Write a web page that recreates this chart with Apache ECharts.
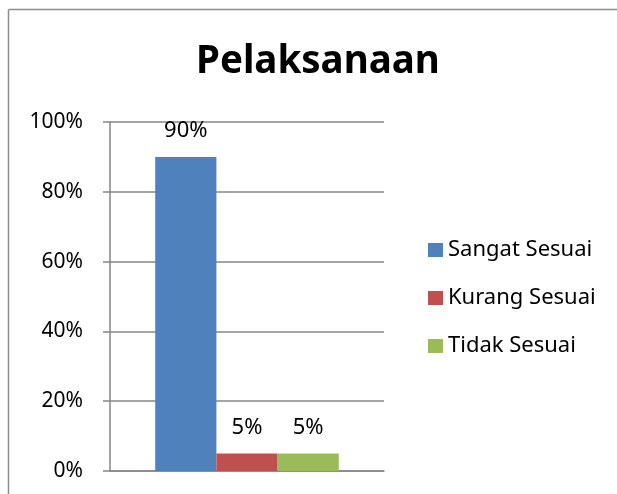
<!DOCTYPE html>
<html>
<head>
<meta charset="utf-8">
<script src="https://cdn.jsdelivr.net/npm/echarts@6/dist/echarts.min.js"></script>
<style>
  html, body { margin: 0; padding: 0; background: #fff; overflow: hidden; }
  #chart { width: 617px; height: 494px; }
</style>
</head>
<body>
<div id="chart"></div>
<script>
// data
const categories = [''];
const seriesNames = ['Sangat Sesuai', 'Kurang Sesuai', 'Tidak Sesuai'];
const seriesValues = [[90], [5], [5]];
const seriesColors = ['#4F81BD', '#C0504D', '#9BBB59'];
const yTicks = { min: 0, max: 100, interval: 20 };

const chart = echarts.init(document.getElementById('chart'), null, { renderer: 'canvas' });

const font = '"Noto Sans", "Open Sans", sans-serif';

const series = seriesNames.map((name, i) => ({
  name: name,
  type: 'bar',
  data: seriesValues[i],
  barGap: '0%',
  barCategoryGap: '33%',
  itemStyle: { color: seriesColors[i] },
  label: {
    show: true,
    position: 'top',
    distance: 15,
    formatter: '{c}%',
    color: '#000',
    fontFamily: font,
    fontSize: 22
  }
}));

chart.setOption({
  animation: false,
  backgroundColor: '#fff',
  textStyle: { fontFamily: font },
  title: {
    text: 'Pelaksanaan',
    left: 196,
    top: 43,
    padding: 0,
    textStyle: { fontFamily: font, fontSize: 38.5, fontWeight: 'bold', color: '#000' }
  },
  // chart frame: only its top and left edges fall inside the picture
  graphic: [{
    type: 'line',
    shape: { x1: 8.5, y1: 494, x2: 8.5, y2: 9.5 },
    style: { stroke: '#8c8c8c', lineWidth: 1.5 },
    silent: true
  }, {
    type: 'line',
    shape: { x1: 8.5, y1: 9.5, x2: 640, y2: 9.5 },
    style: { stroke: '#8c8c8c', lineWidth: 1.5 },
    silent: true
  }],
  legend: {
    orient: 'vertical',
    left: 428,
    top: 239,
    padding: 0,
    itemWidth: 15,
    itemHeight: 14,
    itemGap: 26,
    icon: 'rect',
    data: seriesNames,
    textStyle: { fontFamily: font, fontSize: 22, color: '#000', lineHeight: 22 }
  },
  grid: { left: 110, right: 233, top: 122, bottom: 23, containLabel: false },
  xAxis: {
    type: 'category',
    data: categories,
    axisLine: { show: true, lineStyle: { color: '#868686', width: 1.5 } },
    axisTick: { show: false },
    axisLabel: { show: false }
  },
  yAxis: {
    type: 'value',
    min: yTicks.min,
    max: yTicks.max,
    interval: yTicks.interval,
    axisLine: { show: true, lineStyle: { color: '#868686', width: 1.5 } },
    axisTick: { show: true, length: 7, lineStyle: { color: '#868686', width: 1.5 } },
    axisLabel: { formatter: '{value}%', margin: 27, color: '#000', fontFamily: font, fontSize: 21 },
    splitLine: { show: true, lineStyle: { color: '#868686', width: 1.5 } }
  },
  series: series
});
</script>
</body>
</html>
